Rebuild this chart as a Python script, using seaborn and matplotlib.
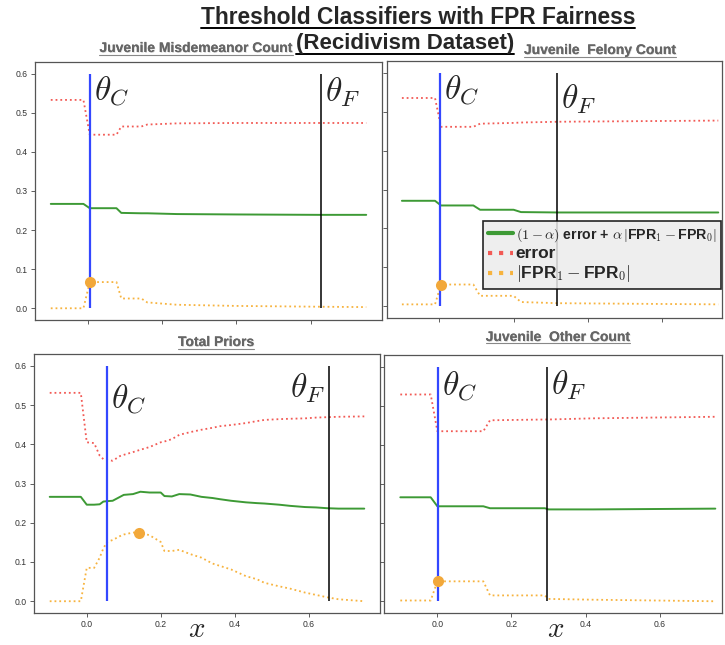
import matplotlib
matplotlib.use("Agg")
import numpy as np
import pandas as pd
import seaborn as sns
import matplotlib.pyplot as plt
import matplotlib.patheffects as pe
from matplotlib.lines import Line2D

# === Datos (umbral x vs. metricas) ===
misd_x = [-0.1, -0.012, 0.005, 0.077, 0.09, 0.144, 0.16, 0.24, 0.40, 0.62, 0.75]
misd_err = [0.533, 0.533, 0.444, 0.444, 0.465, 0.465, 0.470, 0.473, 0.474, 0.474, 0.474]
misd_obj = [0.267, 0.267, 0.256, 0.256, 0.244, 0.243, 0.243, 0.241, 0.240, 0.239, 0.239]
misd_gap = [0.0, 0.0, 0.067, 0.067, 0.025, 0.025, 0.015, 0.009, 0.006, 0.004, 0.003]
misd_theta = (0.005, 0.627)
misd_dot = (0.005, 0.067)

fel_x = [-0.1, -0.011, 0.005, 0.092, 0.11, 0.20, 0.22, 0.32, 0.75]
fel_err = [0.535, 0.535, 0.461, 0.461, 0.469, 0.471, 0.472, 0.474, 0.477]
fel_obj = [0.271, 0.271, 0.259, 0.259, 0.248, 0.248, 0.242, 0.241, 0.241]
fel_gap = [0.005, 0.005, 0.056, 0.056, 0.027, 0.027, 0.011, 0.008, 0.005]
fel_theta = (0.003, 0.317)
fel_dot = (0.005, 0.056)

pri_x = [-0.1, -0.016, 0.0, 0.02, 0.035, 0.045, 0.055, 0.07, 0.09, 0.1, 0.125,
         0.145, 0.17, 0.2, 0.21, 0.23, 0.25, 0.28, 0.31, 0.34, 0.36, 0.39,
         0.43, 0.46, 0.48, 0.52, 0.55, 0.59, 0.62, 0.65, 0.68, 0.75]
pri_err = [0.531, 0.531, 0.405, 0.403, 0.371, 0.362, 0.360, 0.358, 0.370, 0.373, 0.380,
           0.386, 0.393, 0.405, 0.407, 0.413, 0.424, 0.431, 0.437, 0.442, 0.446, 0.449,
           0.454, 0.459, 0.462, 0.464, 0.465, 0.466, 0.468, 0.469, 0.470, 0.471]
pri_obj = [0.266, 0.266, 0.246, 0.246, 0.247, 0.254, 0.255, 0.256, 0.266, 0.271, 0.273,
           0.279, 0.277, 0.277, 0.268, 0.267, 0.273, 0.272, 0.266, 0.263, 0.260, 0.256,
           0.252, 0.250, 0.249, 0.246, 0.243, 0.240, 0.239, 0.237, 0.236, 0.236]
pri_gap = [0.0, 0.0, 0.085, 0.085, 0.111, 0.135, 0.151, 0.156, 0.166, 0.170, 0.175,
           0.175, 0.168, 0.151, 0.128, 0.128, 0.131, 0.120, 0.111, 0.096, 0.090, 0.081,
           0.064, 0.056, 0.047, 0.038, 0.032, 0.022, 0.016, 0.010, 0.005, 0.0]
pri_theta = (0.054, 0.655)
pri_dot = (0.141, 0.175)

oth_x = [-0.1, -0.018, 0.0, 0.124, 0.142, 0.29, 0.30, 0.42, 0.75]
oth_err = [0.529, 0.529, 0.435, 0.435, 0.463, 0.465, 0.465, 0.468, 0.472]
oth_obj = [0.266, 0.266, 0.243, 0.243, 0.238, 0.238, 0.235, 0.235, 0.237]
oth_gap = [0.002, 0.002, 0.051, 0.051, 0.015, 0.015, 0.006, 0.004, 0.0]
oth_theta = (0.002, 0.296)
oth_dot = (0.002, 0.051)

titles = ["Juvenile Misdemeanor Count", "Juvenile  Felony Count",
          "Total Priors", "Juvenile  Other Count"]
yticks = [0.0, 0.1, 0.2, 0.3, 0.4, 0.5, 0.6]
xticks = [0.0, 0.2, 0.4, 0.6]

GREEN = "#3d9a35"
RED = "#f25a55"
ORANGE = "#f7b33e"
BLUE = "#3347ff"
DOT = "#f2a83a"

sns.set_theme(style="white", context="paper")
plt.rcParams["font.family"] = ["Liberation Sans", "DejaVu Sans"]
plt.rcParams["mathtext.fontset"] = "cm"

W, H = 725, 645
fig = plt.figure(figsize=(W / 100, H / 100), dpi=100)


def px_axes(l, t, r, b):
    return fig.add_axes([l / W, 1 - b / H, (r - l) / W, (b - t) / H])


panels = [
    dict(box=(35, 62, 382, 320), xlim=(-0.1425, 0.7925), x=misd_x, err=misd_err,
         obj=misd_obj, gap=misd_gap, theta=misd_theta, dot=misd_dot,
         cdy=0, fdy=2, fside="right", ylab=True, xlab=False),
    dict(box=(387, 61, 722, 318), xlim=(-0.14, 0.76), x=fel_x, err=fel_err,
         obj=fel_obj, gap=fel_gap, theta=fel_theta, dot=fel_dot,
         cdy=0, fdy=10, fside="right", ylab=False, xlab=False),
    dict(box=(34, 354, 380, 613), xlim=(-0.1425, 0.7925), x=pri_x, err=pri_err,
         obj=pri_obj, gap=pri_gap, theta=pri_theta, dot=pri_dot,
         cdy=16, fdy=6, fside="left", ylab=True, xlab=True),
    dict(box=(384, 355, 722, 613), xlim=(-0.144, 0.768), x=oth_x, err=oth_err,
         obj=oth_obj, gap=oth_gap, theta=oth_theta, dot=oth_dot,
         cdy=2, fdy=2, fside="right", ylab=False, xlab=True),
]

axes = []
for p in panels:
    ax = px_axes(*p["box"])
    df = pd.DataFrame({"x": p["x"], "obj": p["obj"], "err": p["err"], "gap": p["gap"]})
    sns.lineplot(data=df, x="x", y="obj", ax=ax, color=GREEN, lw=1.4, sort=False)
    sns.lineplot(data=df, x="x", y="err", ax=ax, color=RED, lw=1.3, ls=":", sort=False)
    sns.lineplot(data=df, x="x", y="gap", ax=ax, color=ORANGE, lw=1.3, ls=":", sort=False)
    tc, tf = p["theta"]
    ax.vlines(tc, 0, 0.6, color=BLUE, lw=1.6, zorder=3)
    ax.vlines(tf, 0, 0.6, color="black", lw=1.1, zorder=3)
    ax.scatter([p["dot"][0]], [p["dot"][1]], s=64, color=DOT, zorder=5, linewidths=0)

    ax.annotate(r"$\theta_C$", xy=(tc, 0.6), xytext=(3, -p["cdy"] * 0.72),
                textcoords="offset points", ha="left", va="top", fontsize=24)
    if p["fside"] == "right":
        ax.annotate(r"$\theta_F$", xy=(tf, 0.6), xytext=(3, -p["fdy"] * 0.72),
                    textcoords="offset points", ha="left", va="top", fontsize=24)
    else:
        ax.annotate(r"$\theta_F$", xy=(tf, 0.6), xytext=(-3, -p["fdy"] * 0.72),
                    textcoords="offset points", ha="right", va="top", fontsize=24)

    ax.set_xlim(*p["xlim"])
    ax.set_ylim(-0.03, 0.63)
    ax.set_xticks(xticks)
    ax.set_yticks(yticks)
    ax.set_xlabel("")
    ax.set_ylabel("")
    ax.tick_params(axis="both", which="both", length=3, width=0.6, color="#444",
                   labelsize=6.2, labelcolor="#333", direction="out",
                   bottom=True, left=True, pad=2)
    if not p["ylab"]:
        ax.set_yticklabels([])
    if not p["xlab"]:
        ax.set_xticklabels([])
    for s in ax.spines.values():
        s.set_edgecolor("#555")
        s.set_linewidth(0.9)
    axes.append(ax)

# leyenda en el panel superior derecho
lax = axes[1]
hl = lax.get_lines()[:3]
leg = lax.legend(hl, [r"$(1-\alpha)$ error + $\alpha\,|$FPR$_1-$FPR$_0|$",
                      "error", r"$|$FPR$_1-$FPR$_0|$"],
                 loc="upper left", bbox_to_anchor=(483 / W, 1 - 221 / H),
                 bbox_transform=fig.transFigure, borderaxespad=0, borderpad=0.35,
                 prop={"weight": "bold", "size": 10.2},
                 handlelength=1.8, handletextpad=0.15, labelspacing=0.15,
                 facecolor="#ebebeb", edgecolor="black", framealpha=0.85,
                 fancybox=False)
leg.get_frame().set_linewidth(1.2)
leg.get_texts()[1].set_fontsize(12.5)
leg.get_texts()[2].set_fontsize(12.5)
for h in leg.legend_handles:
    h.set_linewidth(3)

# titulos
main1 = fig.text(418 / W, 1 - 17 / H, "Threshold Classifiers with FPR Fairness",
                 ha="center", va="center", fontsize=16.4, fontweight="bold")
main2 = fig.text(405 / W, 1 - 44 / H, "(Recidivism Dataset)",
                 ha="center", va="center", fontsize=16, fontweight="bold")
sub_pos = [(196, 48), (600, 50), (216, 342), (558, 337)]
subs = []
for t, (sx, sy) in zip(titles, sub_pos):
    subs.append(fig.text(sx / W, 1 - sy / H, t, ha="center", va="center",
                         fontsize=10, fontweight="bold", color="#666",
                         path_effects=[pe.withSimplePatchShadow(offset=(0.5, -0.5),
                                                                shadow_rgbFace="#aaa",
                                                                alpha=0.5),
                                       pe.Normal()]))

fig.text(197 / W, 1 - 629 / H, r"$x$", ha="center", va="center", fontsize=21)
fig.text(556 / W, 1 - 629 / H, r"$x$", ha="center", va="center", fontsize=21)

# subrayado de los titulos
fig.canvas.draw()
r = fig.canvas.get_renderer()
for t, col, lw in [(main1, "black", 1.4), (main2, "black", 1.4)] + [(s, "#888", 0.8) for s in subs]:
    bb = t.get_window_extent(r)
    yl = bb.y0 + 0.5
    fig.add_artist(Line2D([bb.x0 / W, bb.x1 / W], [yl / H, yl / H], color=col, lw=lw))

fig.savefig("out.png", dpi=100)
